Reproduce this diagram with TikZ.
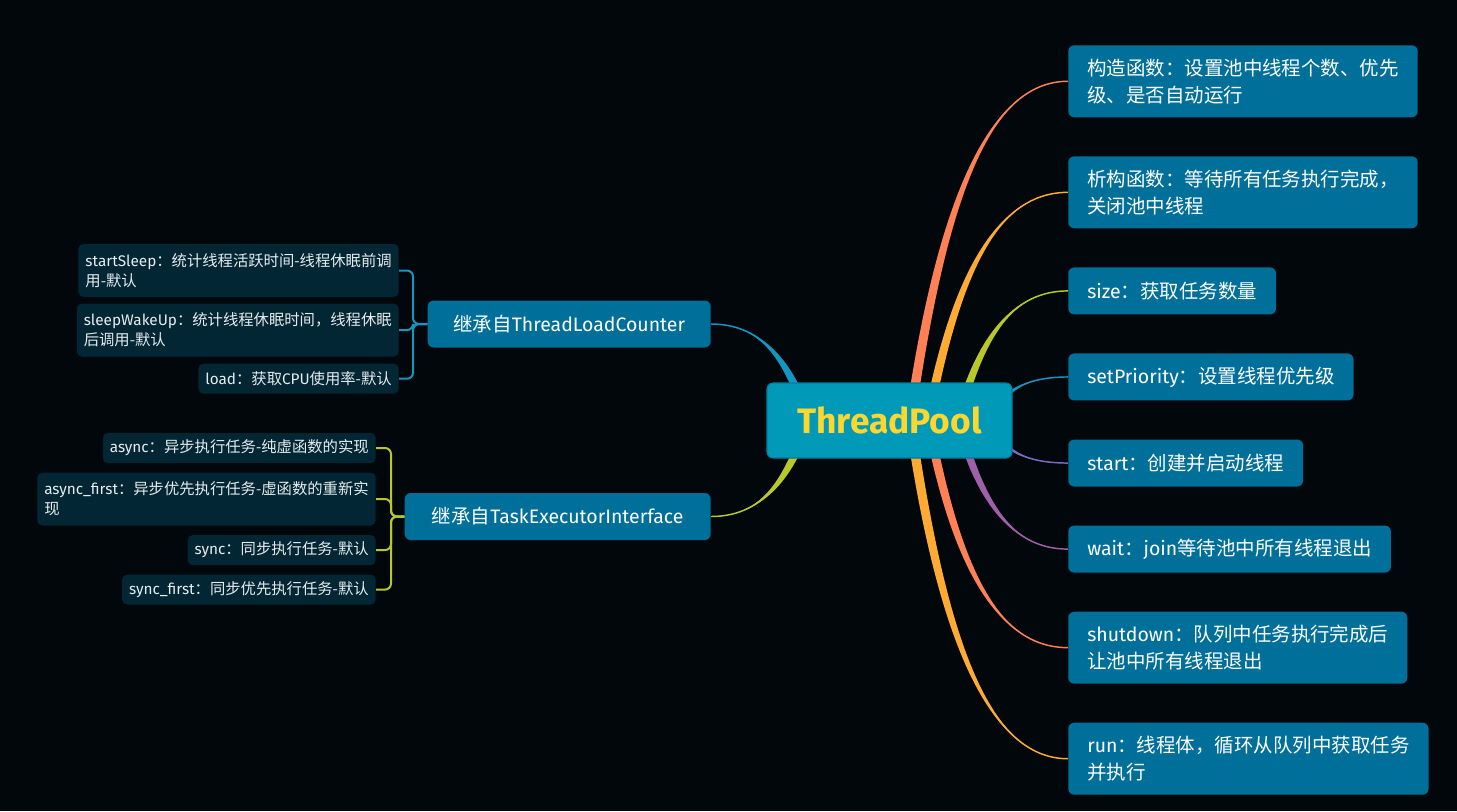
\documentclass[tikz,border=0pt]{standalone}
\usepackage{fontspec}
\setmainfont{Fira Sans}
\newfontfamily\cjk{Noto Sans CJK SC}
\newcommand\zh[1]{{\cjk #1}}
\usepackage{tikz}
\usetikzlibrary{calc, positioning}
\definecolor{bgDark}{RGB}{1,7,11}
\definecolor{poolFill}{RGB}{0,153,184}
\definecolor{poolEdge}{RGB}{0,125,155}
\definecolor{poolText}{RGB}{253,215,45}
\definecolor{subFill}{RGB}{0,111,153}
\definecolor{leafFill}{RGB}{3,38,52}
\definecolor{leafText}{RGB}{230,236,238}
\definecolor{brCoral}{RGB}{255,128,85}
\definecolor{brOrange}{RGB}{255,170,50}
\definecolor{brLime}{RGB}{185,200,40}
\definecolor{brTeal}{RGB}{20,150,195}
\definecolor{brIndigo}{RGB}{125,105,190}
\definecolor{brPurple}{RGB}{160,95,170}

% tapered branch: colour, start, end, half width at the start
\newcommand\branch[4]{%
  \fill[#1] let \p1=(#2), \p2=(#3) in
    (\x1-#4,\y1) .. controls (0.8*\x1+0.2*\x2-#4, 0.35*\y1+0.65*\y2) and (0.5*\x1+0.5*\x2, \y2) .. (\p2)
    .. controls (0.5*\x1+0.5*\x2, \y2) and (0.8*\x1+0.2*\x2+#4, 0.35*\y1+0.65*\y2) .. (\x1+#4,\y1) -- cycle;
  \draw[#1, line width=1.1pt] let \p1=(#2), \p2=(#3) in
    (\p1) .. controls (0.8*\x1+0.2*\x2, 0.35*\y1+0.65*\y2) and (0.5*\x1+0.5*\x2, \y2) .. (\p2);
}

\pgfdeclarelayer{back}
\pgfsetlayers{back,main}

\begin{document}
\begin{tikzpicture}[
    x=0.75pt, y=-0.75pt,
    topic/.style={rectangle, rounded corners=4.5pt, fill=poolFill, draw=poolEdge, line width=0.8pt, text=poolText, font=\bfseries\fontsize{26.5}{30}\selectfont, minimum width=183.75pt, minimum height=56.25pt, inner sep=0pt},
    sub/.style={rectangle, rounded corners=4.5pt, fill=subFill, text=white, font=\fontsize{14.6}{20.2}\selectfont, align=left, inner xsep=14.25pt, inner ysep=0pt, minimum height=35.25pt, anchor=west},
    sub2/.style={sub, minimum height=54pt},
    rnext/.style={below=28.9pt of #1.south west, anchor=north west},
    leaf/.style={rectangle, rounded corners=3.75pt, fill=leafFill, text=leafText, font=\fontsize{11.5}{15}\selectfont, align=left, inner xsep=5.25pt, inner ysep=0pt, minimum height=22.5pt, anchor=east},
    leaf2/.style={leaf, minimum height=39.75pt},
    brace/.style={line width=1.5pt, rounded corners=4.5pt}
]

% centre
\node[topic] (pool) at (889.5,420.5) {ThreadPool};

% right side
\node[sub2, anchor=north west] (ctor) at (1068,45) {\zh{构造函数：设置池中线程个数、优先}\\\zh{级、是否自动运行}};
\node[sub2, rnext=ctor] (dtor) {\zh{析构函数：等待所有任务执行完成，}\\\zh{关闭池中线程}};
\node[sub, rnext=dtor] (size) {size\zh{：获取任务数量}};
\node[sub, rnext=size] (prio) {setPriority\zh{：设置线程优先级}};
\node[sub, rnext=prio] (start) {start\zh{：创建并启动线程}};
\node[sub, rnext=start] (wait) {wait\zh{：}join\zh{等待池中所有线程退出}};
\node[sub2, rnext=wait] (shut) {shutdown\zh{：队列中任务执行完成后}\\\zh{让池中所有线程退出}};
\node[sub2, rnext=shut] (run) {run\zh{：线程体，循环从队列中获取任务}\\\zh{并执行}};

% left side
\node[sub, anchor=east, align=center, minimum width=212.25pt] (base1) at (711,324) {\zh{继承自}ThreadLoadCounter};
\node[sub, anchor=east, align=center, minimum width=229.5pt] (base2) at (711,516.5) {\zh{继承自}TaskExecutorInterface};

\node[leaf2] (sleep) at (399,270.5) {startSleep\zh{：统计线程活跃时间-线程休眠前调}\\\zh{用-默认}};
\node[leaf2, below=4.5pt of sleep.south east, anchor=north east] (wake) {sleepWakeUp\zh{：统计线程休眠时间，线程休眠}\\\zh{后调用-默认}};
\node[leaf, below=5pt of wake.south east, anchor=north east] (load) {load\zh{：获取}CPU\zh{使用率-默认}};

\node[leaf] (async) at (376,448) {async\zh{：异步执行任务-纯虚函数的实现}};
\node[leaf2, below=6.75pt of async.south east, anchor=north east] (asyncf) {async\_first\zh{：异步优先执行任务-虚函数的重新实}\\\zh{现}};
\node[leaf, below=6.75pt of asyncf.south east, anchor=north east] (sync) {sync\zh{：同步执行任务-默认}};
\node[leaf, below=6.75pt of sync.south east, anchor=north east] (syncf) {sync\_first\zh{：同步优先执行任务-默认}};

% branch roots behind the centre
\coordinate (r1) at (910,420);
\coordinate (r2) at (928,420);
\coordinate (r3) at (958,420);
\coordinate (r4) at (1000,402);
\coordinate (r5) at (1000,440);
\coordinate (r6) at (958,420);
\coordinate (r7) at (928,420);
\coordinate (r8) at (910,420);
\coordinate (l1) at (808,420);
\coordinate (l2) at (808,420);
\coordinate (fork1) at (413,324);
\coordinate (fork2) at (391,516.5);

\begin{pgfonlayer}{back}
\fill[bgDark] (0,0) rectangle (1457,811);
\branch{brCoral}{r1}{ctor.west}{3.6pt}
\branch{brOrange}{r2}{dtor.west}{3.4pt}
\branch{brLime}{r3}{size.west}{3.2pt}
\branch{brTeal}{r4}{prio.west}{2.4pt}
\branch{brIndigo}{r5}{start.west}{2.4pt}
\branch{brPurple}{r6}{wait.west}{3.2pt}
\branch{brCoral}{r7}{shut.west}{3.4pt}
\branch{brOrange}{r8}{run.west}{3.6pt}
\branch{brTeal}{l1}{base1.east}{3.6pt}
\branch{brLime}{l2}{base2.east}{3.6pt}
\end{pgfonlayer}

% brackets
\draw[brace, brTeal] (base1.west) -- (fork1) |- (sleep.east);
\draw[brace, brTeal] (base1.west) -- (fork1) |- (wake.east);
\draw[brace, brTeal] (base1.west) -- (fork1) |- (load.east);
\draw[brace, brLime] (base2.west) -- (fork2) |- (async.east);
\draw[brace, brLime] (base2.west) -- (fork2) |- (asyncf.east);
\draw[brace, brLime] (base2.west) -- (fork2) |- (sync.east);
\draw[brace, brLime] (base2.west) -- (fork2) |- (syncf.east);

\end{tikzpicture}
\end{document}
